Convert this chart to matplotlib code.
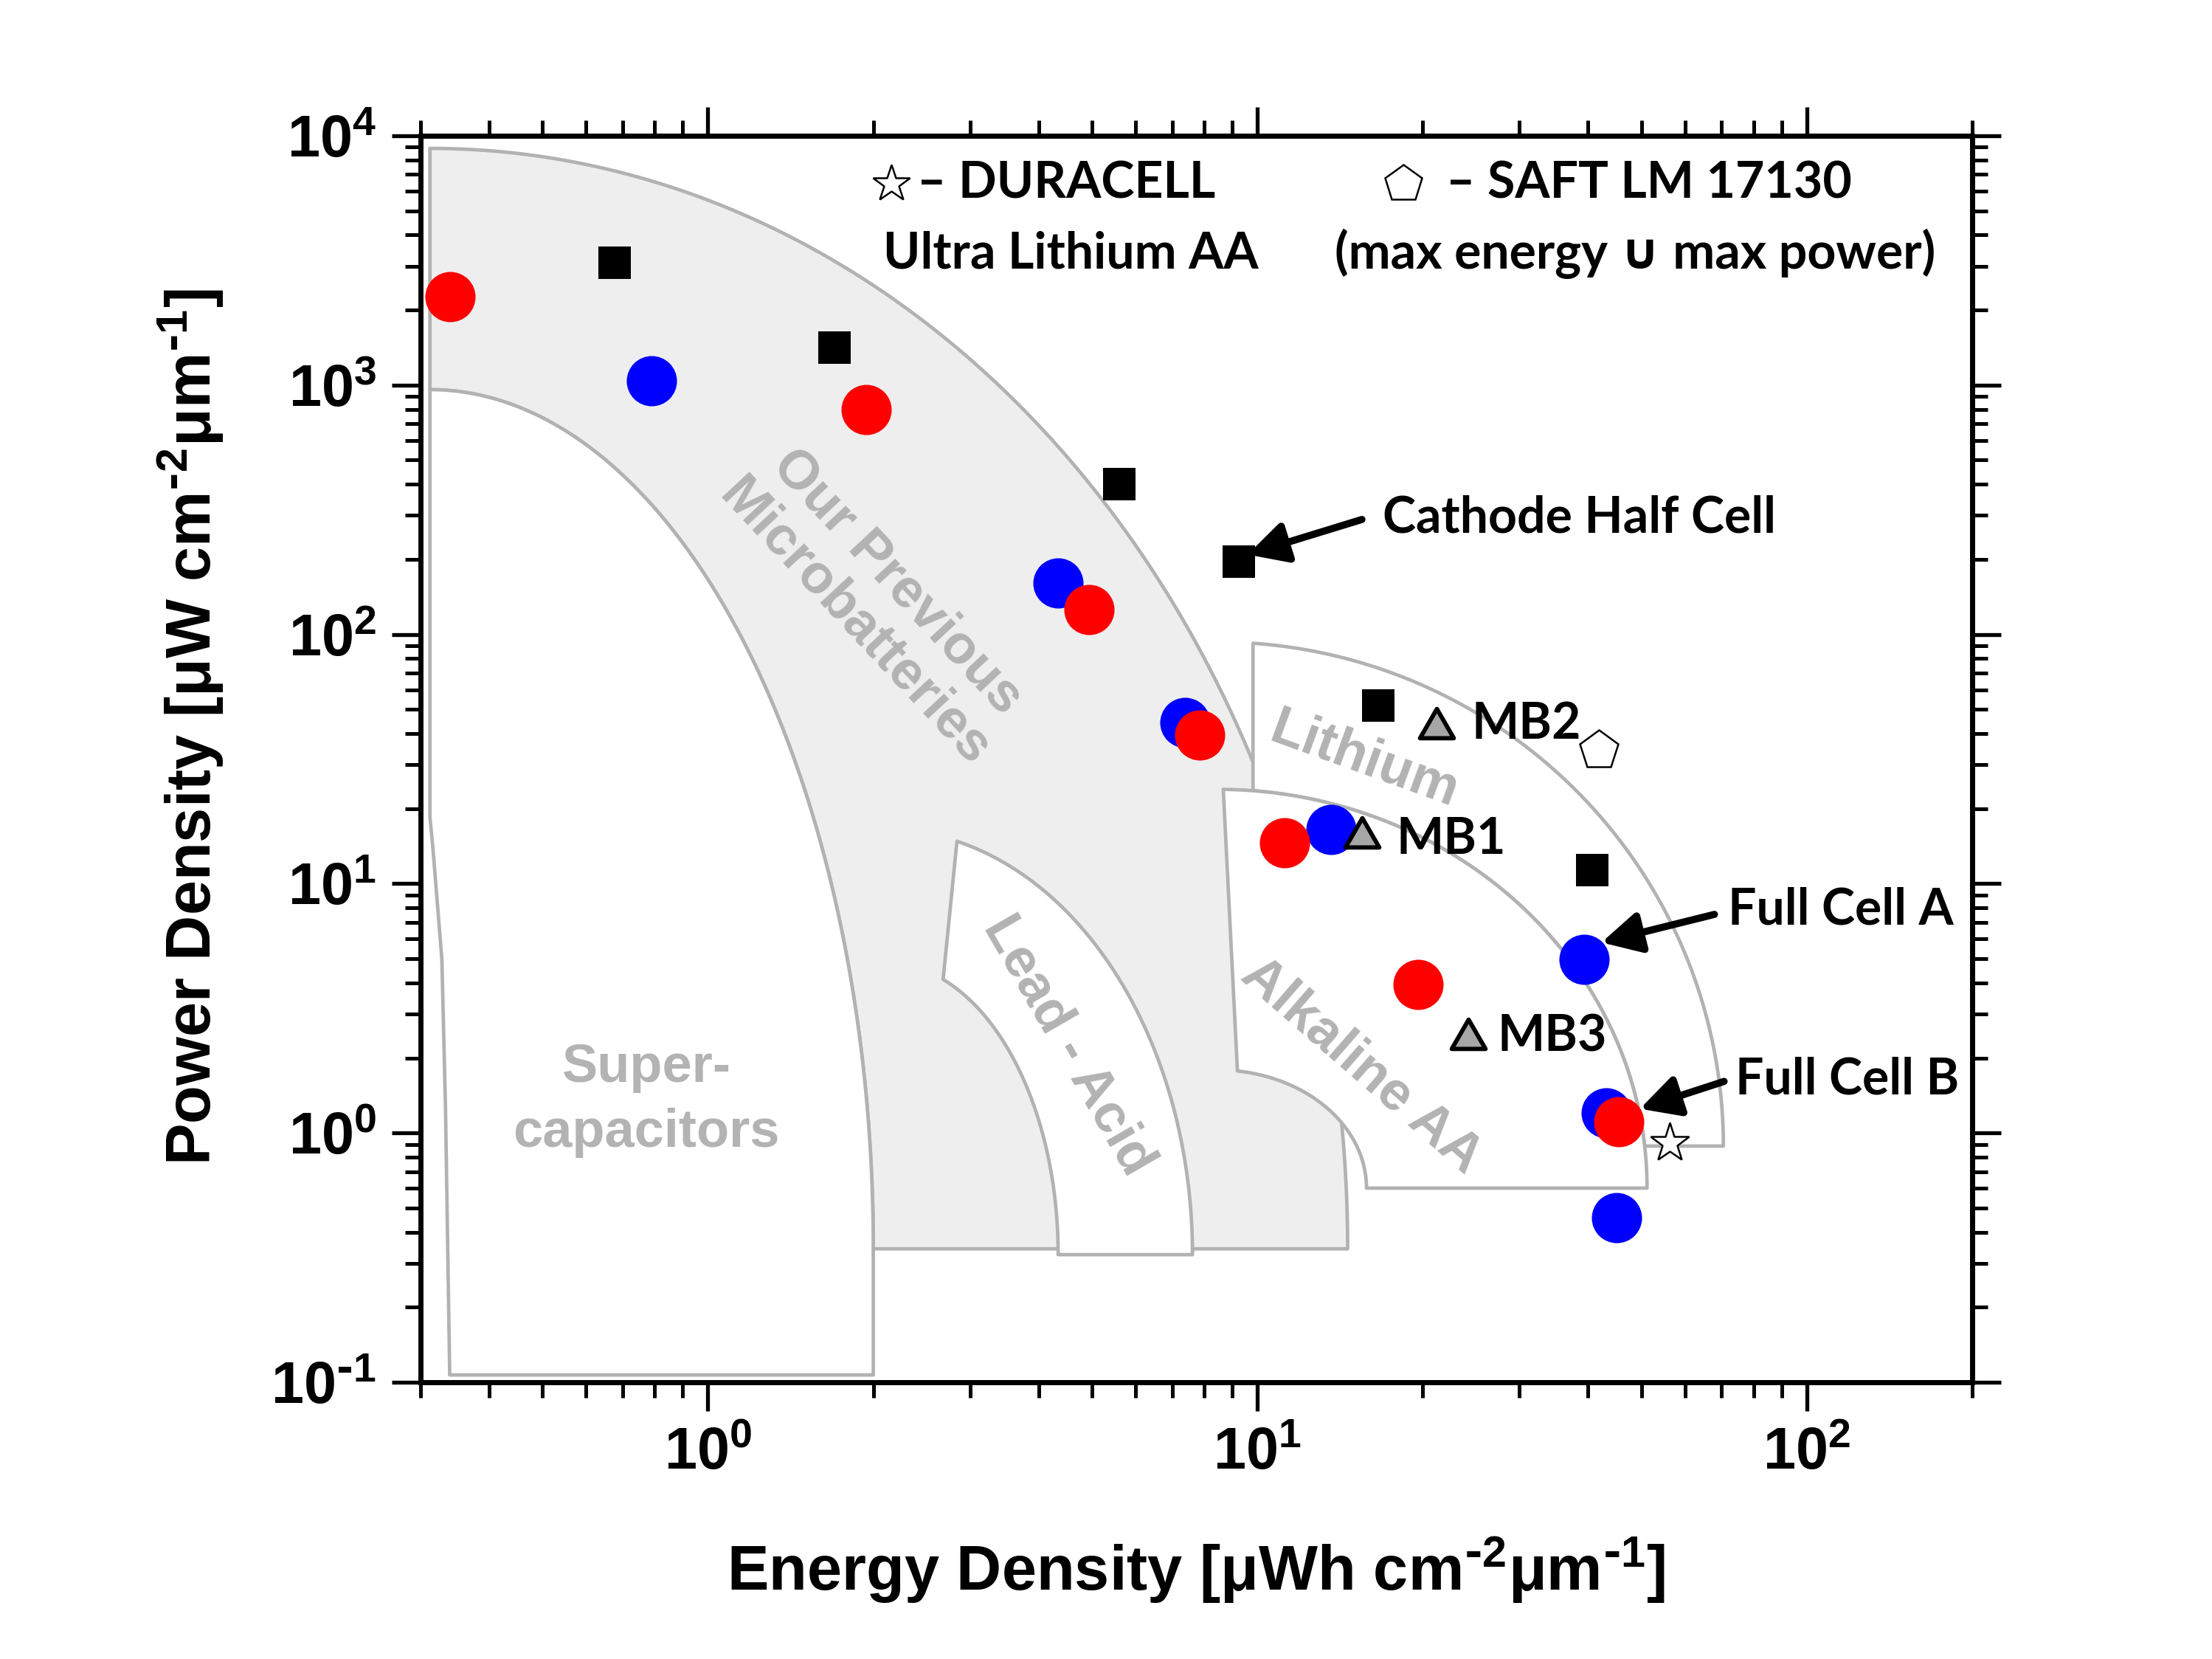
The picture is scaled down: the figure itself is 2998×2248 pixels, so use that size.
import numpy as np
import matplotlib
matplotlib.use("Agg")
import matplotlib.pyplot as plt
from matplotlib.patches import Polygon
from matplotlib.path import Path
from matplotlib.ticker import LogLocator, FuncFormatter, NullFormatter

plt.rcParams['font.family'] = ['Liberation Sans', 'DejaVu Sans']
plt.rcParams['font.weight'] = 'bold'
plt.rcParams['mathtext.default'] = 'regular'

# ---------------- data (energy density, power density) ----------------
energy_red = [0.340, 1.94, 4.94, 7.85, 11.2, 19.6, 45.5]
power_red = [2270, 800, 126, 39.4, 14.6, 3.93, 1.11]
energy_blue = [0.789, 4.34, 7.39, 13.6, 39.3, 43.2, 45.0]
power_blue = [1038, 161, 44.4, 16.5, 4.97, 1.20, 0.457]
energy_cathode = [0.676, 1.70, 5.60, 9.26, 16.6, 40.7]
power_cathode = [3100, 1418, 401, 196, 51.9, 11.3]
mb_names = ["MB1", "MB2", "MB3"]
energy_mb = [15.5, 21.2, 24.2]
power_mb = [16.0, 44.0, 2.49]
energy_saft, power_saft = [41.9], [34.2]
energy_duracell, power_duracell = [56.3], [0.91]

# region outlines (data units): centre of the quarter-ellipse, outer extent (x at bottom, y at top)
micro_center, micro_outer = (0.312, 0.343), (14.6, 8900)
super_center, super_outer = (0.312, 0.343), (2.0, 959)
super_bottom = 0.107
super_left_x = [0.339, 0.333, 0.328, 0.316, 0.312]
super_left_y = [0.107, 1.27, 4.97, 13.8, 18.5]
lead_center, lead_outer, lead_inner = (2.10, 0.325), (7.62, 16.5), (4.34, 4.83)
lead_left_x = (2.84, 2.68)
alk_center, alk_outer, alk_inner = (8.46, 0.601), (51.2, 23.9), (15.8, 1.79)
alk_left_x = (8.67, 9.2)
li_center, li_outer = (8.46, 0.886), (70.5, 93.2)
li_left_x = 9.82

# ---------------- helpers ----------------
def ell_pts(center, ext, t0, t1, n=240):
    lx0, ly0 = np.log10(center)
    rx = np.log10(ext[0]) - lx0
    ry = np.log10(ext[1]) - ly0
    t = np.radians(np.linspace(t0, t1, n))
    return np.column_stack([10 ** (lx0 + rx * np.cos(t)), 10 ** (ly0 + ry * np.sin(t))])

def theta_x(center, ext, x):
    lx0 = np.log10(center[0]); rx = np.log10(ext[0]) - lx0
    return np.degrees(np.arccos(np.clip((np.log10(x) - lx0) / rx, -1, 1)))

def theta_y(center, ext, y):
    ly0 = np.log10(center[1]); ry = np.log10(ext[1]) - ly0
    return np.degrees(np.arcsin(np.clip((np.log10(y) - ly0) / ry, -1, 1)))

EDGE = '#B2B2B2'
GRAYFILL = '#EEEEEE'
LW = 3.4

fig = plt.figure(figsize=(29.98, 22.48), dpi=100)
ax = fig.add_axes([0.19013, 0.16681, 0.70146, 0.75134])
ax.set_xscale('log')
ax.set_yscale('log')
ax.set_xlim(0.3, 200)
ax.set_ylim(0.1, 1e4)

def add_poly(verts, fc, z):
    p = Polygon(np.asarray(verts), closed=True, facecolor=fc, edgecolor=EDGE,
                linewidth=LW, zorder=z, joinstyle='round')
    ax.add_patch(p)

# microbatteries (gray)
outer = ell_pts(micro_center, micro_outer, 90, 0)
inner = ell_pts(super_center, super_outer, 0, 90)
add_poly(np.vstack([outer, [[super_outer[0], micro_center[1]]], inner]), GRAYFILL, 1)

# supercapacitors
arc = ell_pts(super_center, super_outer, 90, 0)
low = [[super_outer[0], super_center[1]], [super_outer[0], super_bottom]]
left = np.column_stack([super_left_x, super_left_y])
add_poly(np.vstack([arc, low, left]), 'white', 2)

# lead-acid
o = ell_pts(lead_center, lead_outer, theta_x(lead_center, lead_outer, lead_left_x[0]), 0)
i = ell_pts(lead_center, lead_inner, 0, theta_x(lead_center, lead_inner, lead_left_x[1]))
add_poly(np.vstack([o, i]), 'white', 2)

# lithium
o = ell_pts(li_center, li_outer, theta_x(li_center, li_outer, li_left_x), 0)
i = ell_pts(alk_center, alk_outer, theta_y(alk_center, alk_outer, li_center[1]),
            theta_x(alk_center, alk_outer, li_left_x))
add_poly(np.vstack([o, i]), 'white', 2)

# alkaline
o = ell_pts(alk_center, alk_outer, theta_x(alk_center, alk_outer, alk_left_x[0]), 0)
i = ell_pts(alk_center, alk_inner, 0, theta_x(alk_center, alk_inner, alk_left_x[1]))
add_poly(np.vstack([o, i]), 'white', 3)

# region labels
RC = '#B3B3B3'
def rlabel(x, y, s, rot, size=53, ls=1.05):
    ax.text(x, y, s, transform=ax.transAxes, rotation=rot, rotation_mode='anchor',
            ha='center', va='center', multialignment='center', color=RC,
            fontsize=size, fontweight='bold', zorder=4, linespacing=ls)

rlabel(0.2934, 0.6258, "Our Previous\nMicrobatteries", -47, ls=1.2)
rlabel(0.1455, 0.2262, "Super-\ncapacitors", 0, 52, ls=1.38)
rlabel(0.4175, 0.2700, "Lead - Acid", -60)
rlabel(0.6082, 0.4991, "Lithium", -20)
rlabel(0.6063, 0.2540, "Alkaline AA", -41)

# ---------------- data points ----------------
ax.plot(energy_blue, power_blue, 'o', ms=49, mew=0, color='#0000FF', zorder=5, ls='none')
ax.plot(energy_red, power_red, 'o', ms=49, mew=0, color='#FF0000', zorder=6, ls='none')
ax.plot(energy_cathode, power_cathode, 's', ms=31, mew=0, color='black', zorder=7, ls='none')
tri = Path([(-1, -0.866), (1, -0.866), (0, 0.866), (-1, -0.866)],
           [Path.MOVETO, Path.LINETO, Path.LINETO, Path.CLOSEPOLY])
ax.plot(energy_mb, power_mb, ls='none', marker=tri, ms=33, mfc='#A6A6A6', mec='black',
        mew=4.2, zorder=8)
ax.plot(energy_saft, power_saft, ls='none', marker='p', ms=40, mfc='white', mec='black',
        mew=1.8, zorder=8)
ax.plot(energy_duracell, power_duracell, ls='none', marker='*', ms=40, mfc='white',
        mec='black', mew=1.8, zorder=8)

# ---------------- annotations ----------------
AF = ['Lato', 'DejaVu Sans']
def atext(x, y, s, ha='left'):
    ax.text(x, y, s, transform=ax.transAxes, ha=ha, va='center', fontsize=49,
            family=AF, fontweight='bold', color='black', zorder=9)

ax.plot([0.3034], [0.9615], ls='none', marker='*', ms=38, mfc='white', mec='black',
        mew=1.8, transform=ax.transAxes, clip_on=False, zorder=9)
ax.plot([0.6334], [0.9615], ls='none', marker='p', ms=38, mfc='white', mec='black',
        mew=1.8, transform=ax.transAxes, clip_on=False, zorder=9)
atext(0.3200, 0.9615, "\u2013 DURACELL")
atext(0.4189, 0.9053, "Ultra Lithium AA", ha='center')
atext(0.6610, 0.9615, "\u2013 SAFT LM 17130")
atext(0.7827, 0.9053, "(max energy \u222a max power)", ha='center')
atext(0.6201, 0.6933, "Cathode Half Cell")
atext(0.8426, 0.3789, "Full Cell A")
atext(0.8474, 0.2427, "Full Cell B")
for name, xf, yf in zip(mb_names, [0.6291, 0.6776, 0.6942], [0.4352, 0.5281, 0.2771]):
    atext(xf, yf, name)

arrow_tips = [(9.6, 209), (42.3, 5.81), (49.7, 1.25)]
arrow_tails = [(15.5, 289), (67.9, 7.53), (70.7, 1.61)]
for tip, tail in zip(arrow_tips, arrow_tails):
    ax.annotate('', xy=tip, xytext=tail, xycoords='data', textcoords='data',
                arrowprops=dict(arrowstyle='-|>,head_length=0.8,head_width=0.42',
                                mutation_scale=40, lw=7, color='black',
                                shrinkA=0, shrinkB=0), zorder=9)

# ---------------- axes styling ----------------
for s in ax.spines.values():
    s.set_linewidth(5)
    s.set_zorder(10)

def pow_fmt(v, pos):
    e = int(round(np.log10(v)))
    if e < 0:
        return r'$10^{\text{-}%d}$' % (-e)
    return r'$10^{%d}$' % e

ax.xaxis.set_major_locator(LogLocator(base=10, numticks=10))
ax.yaxis.set_major_locator(LogLocator(base=10, numticks=10))
ax.xaxis.set_minor_locator(LogLocator(base=10, subs=np.arange(2, 10), numticks=20))
ax.yaxis.set_minor_locator(LogLocator(base=10, subs=np.arange(2, 10), numticks=20))
ax.xaxis.set_major_formatter(FuncFormatter(pow_fmt))
ax.yaxis.set_major_formatter(FuncFormatter(pow_fmt))
ax.xaxis.set_minor_formatter(NullFormatter())
ax.yaxis.set_minor_formatter(NullFormatter())
ax.tick_params(which='major', direction='out', length=28, width=3.8, top=True, right=True,
               labelsize=57, pad=15)
ax.tick_params(which='minor', direction='out', length=15, width=3.6, top=True, right=True)
for lab in ax.get_xticklabels() + ax.get_yticklabels():
    lab.set_fontweight('bold')

ax.set_xlabel('Energy Density [\u03bcWh cm$^{\\text{-}2}$\u03bcm$^{\\text{-}1}$]', fontsize=61,
              fontweight='bold', va='center')
ax.xaxis.set_label_coords(0.5, -0.1504)
ax.set_ylabel('Power Density [\u03bcW cm$^{\\text{-}2}$\u03bcm$^{\\text{-}1}$]', fontsize=61,
              fontweight='bold', va='center')
ax.yaxis.set_label_coords(-0.1484, 0.5258)

fig.savefig('out.png', dpi=100)
